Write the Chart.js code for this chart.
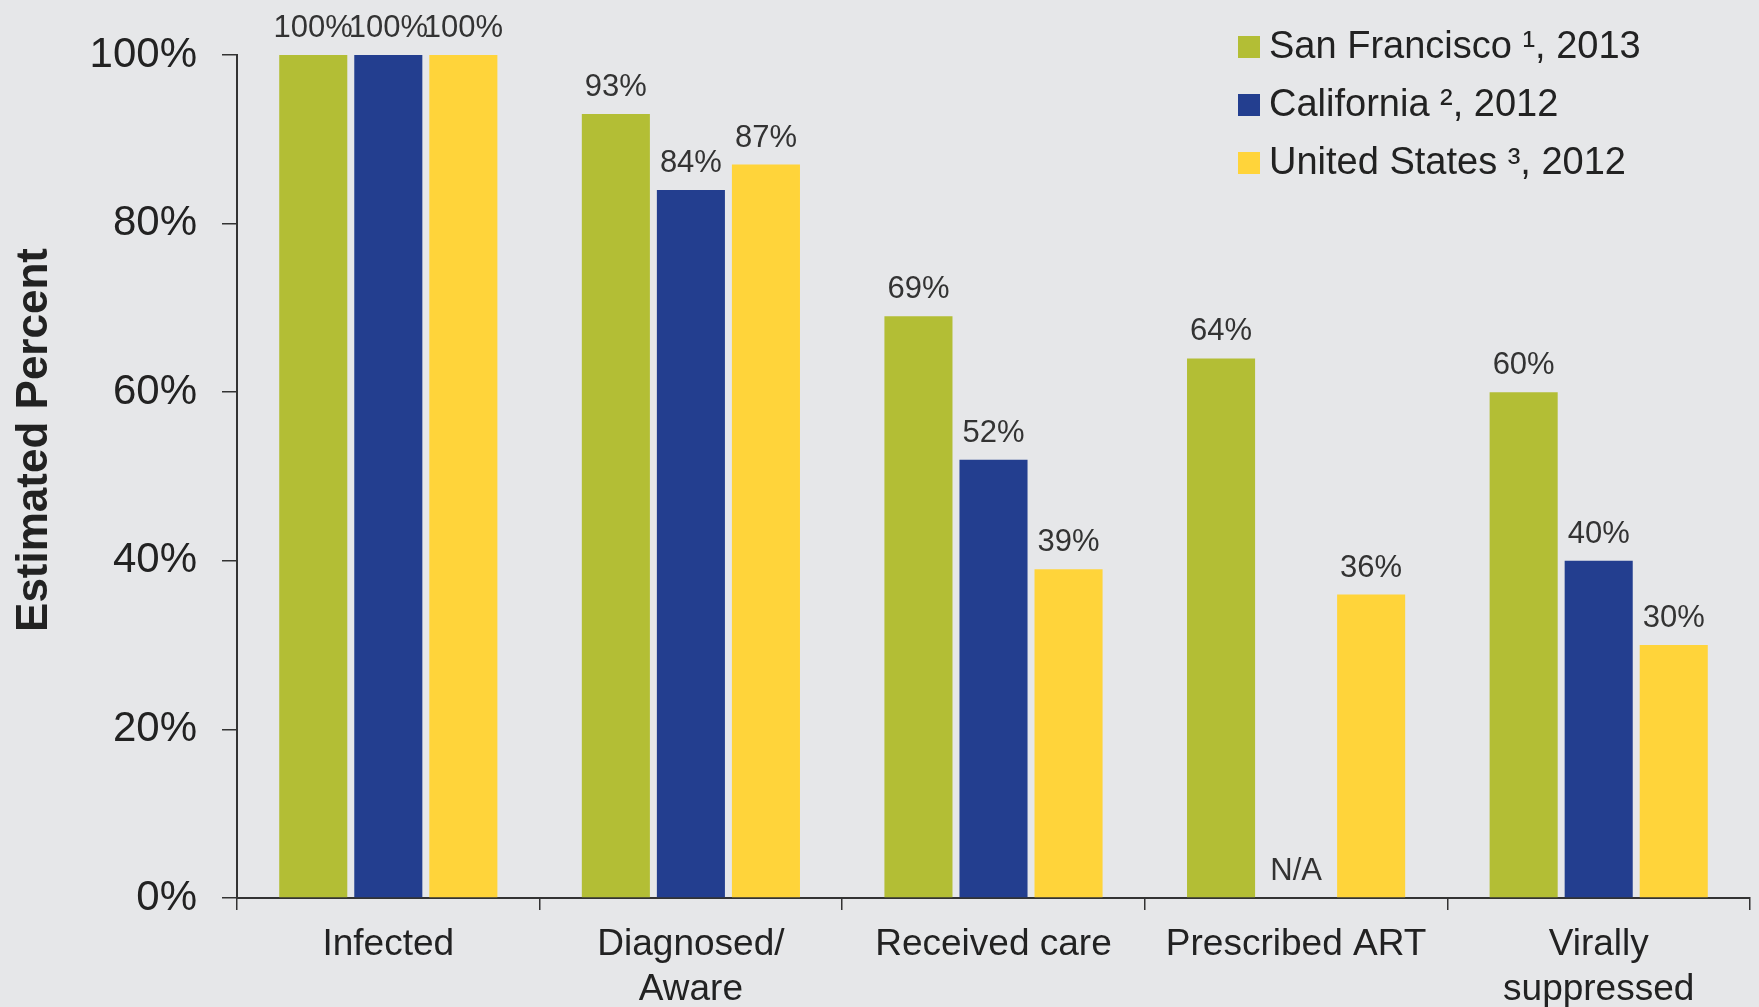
<!DOCTYPE html>
<html>
<head>
<meta charset="utf-8">
<script src="https://cdn.jsdelivr.net/npm/chart.js@4.4.1/dist/chart.umd.min.js"></script>
<style>
  html, body { margin: 0; padding: 0; background: #e6e7e9; }
  #wrap { width: 1759px; height: 1007px; position: relative; }
</style>
</head>
<body>
<div id="wrap"><canvas id="cv"></canvas></div>
<script>
// data
var categories = ['Infected', ['Diagnosed/', 'Aware'], 'Received care', 'Prescribed ART', ['Virally', 'suppressed']];
var seriesLabels = ['San Francisco \u00b9, 2013', 'California \u00b2, 2012', 'United States \u00b3, 2012'];
var sanFrancisco = [100, 93, 69, 64, 60];
var california = [100, 84, 52, null, 40];   // null = N/A
var unitedStates = [100, 87, 39, 36, 30];
var seriesColors = ['#b3be35', '#233e8f', '#ffd43a'];
var yTitle = 'Estimated Percent';

var sFont = '"Liberation Sans", Arial, Helvetica, sans-serif';
Chart.defaults.font.family = sFont;

// value labels above each bar (N/A where there is no value)
var oValueLabels = {
    id: 'valueLabels',
    afterDatasetsDraw: function (chart) {
        var ctx = chart.ctx;
        var yScale = chart.scales.y;
        ctx.save();
        ctx.font = '31px ' + sFont;
        ctx.fillStyle = '#333333';
        ctx.textAlign = 'center';
        ctx.textBaseline = 'alphabetic';
        chart.data.datasets.forEach(function (ds, i) {
            var meta = chart.getDatasetMeta(i);
            meta.data.forEach(function (el, j) {
                var v = ds.data[j];
                var sText = v == null ? 'N/A' : v + '%';
                var y = v == null ? yScale.getPixelForValue(0) : el.y;
                ctx.fillText(sText, el.x, y - 18);
            });
        });
        ctx.restore();
    }
};

// legend in the top right, one row per series, plus the rotated y title
var oExtras = {
    id: 'extras',
    afterDraw: function (chart) {
        var ctx = chart.ctx;
        ctx.save();
        ctx.font = '38px ' + sFont;
        ctx.textAlign = 'left';
        ctx.textBaseline = 'alphabetic';
        chart.data.datasets.forEach(function (ds, i) {
            var yBase = 58 + i * 58;
            ctx.fillStyle = ds.backgroundColor;
            ctx.fillRect(1238, yBase - 22, 22, 22);
            ctx.fillStyle = '#222222';
            ctx.fillText(ds.label, 1269, yBase);
        });

        ctx.translate(47, 440);
        ctx.rotate(-Math.PI / 2);
        ctx.font = 'bold 44px ' + sFont;
        ctx.textAlign = 'center';
        ctx.fillStyle = '#222222';
        ctx.fillText(yTitle, 0, 0);
        ctx.restore();
    }
};

var aSeries = [sanFrancisco, california, unitedStates];

new Chart(document.getElementById('cv'), {
    type: 'bar',
    data: {
        labels: categories,
        datasets: aSeries.map(function (a, i) {
            return {
                label: seriesLabels[i],
                data: a,
                backgroundColor: seriesColors[i],
                borderWidth: 0,
                categoryPercentage: 0.744,
                barPercentage: 0.907
            };
        })
    },
    options: {
        responsive: true,
        maintainAspectRatio: false,
        animation: false,
        layout: { padding: { top: 55, right: 9, left: 0, bottom: 0 } },
        plugins: {
            legend: { display: false },
            tooltip: { enabled: false }
        },
        scales: {
            x: {
                afterFit: function (scale) { scale.height = 109; },
                border: { color: '#333333', width: 2 },
                grid: { drawOnChartArea: false, tickLength: 12, color: '#333333', lineWidth: 1.5 },
                ticks: {
                    color: '#222222',
                    font: { size: 37, lineHeight: 1.22 },
                    padding: 12,
                    maxRotation: 0,
                    autoSkip: false
                }
            },
            y: {
                min: 0,
                max: 100,
                afterFit: function (scale) { scale.width = 237; },
                border: { color: '#333333', width: 2 },
                grid: { drawOnChartArea: false, tickLength: 15, color: '#333333', lineWidth: 1.5 },
                ticks: {
                    stepSize: 20,
                    color: '#222222',
                    font: { size: 42 },
                    padding: 25,
                    callback: function (v) { return v + '%'; }
                }
            }
        }
    },
    plugins: [oValueLabels, oExtras]
});
</script>
</body>
</html>
